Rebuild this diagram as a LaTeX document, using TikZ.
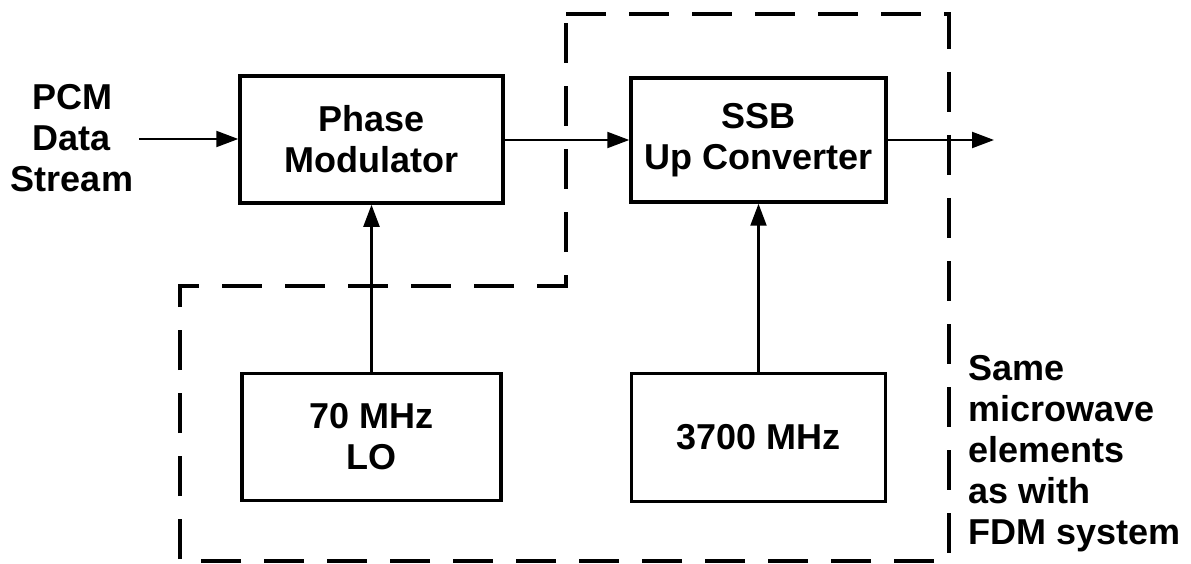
\documentclass[tikz,border=0pt]{standalone}
\usepackage{fontspec}
\setmainfont{Liberation Sans}
\usetikzlibrary{
  arrows.meta,                        % for arrow tips
  positioning
}
\tikzstyle{block} = [rectangle, draw, line width=3.5pt, text centered, align=center, inner sep=0pt]
\tikzstyle{sigline} = [line width=2.2pt, -{Triangle[length=22pt,width=16pt]}]
\tikzstyle{boundary} = [line width=3.5pt, dash pattern=on 40pt off 23pt]
\tikzstyle{caption} = [align=center, inner sep=0pt]

\begin{document}
\begin{tikzpicture}[x=1pt,y=-1pt,font=\bfseries\fontsize{36}{41}\selectfont]
\useasboundingbox (0,0) rectangle (1191,564);
  % signal path nodes
\node[block,minimum width=263pt,minimum height=127pt](phasemod) at (371.5,139.5) {Phase\\Modulator};
\node[block,minimum width=255pt,minimum height=124pt](upconv) at (758.5,140) {SSB\\Up Converter};
\node[block,minimum width=259pt,minimum height=127pt](lo70)[below=167pt of phasemod] {70 MHz\\LO};
\node[block,minimum width=254pt,minimum height=128pt](lo3700)[below=168pt of upconv] {3700 MHz};
\node[caption](pcmin) at (72,138) {PCM\\Data\\Stream};
\node[caption,align=left,anchor=north west](samenote) at (968,355) {Same\\microwave\\elements\\as with\\FDM system};
\coordinate (instart) at (139,139);
\coordinate (outend) at (994,140);

% connectors
\draw[sigline] (instart) -- (instart -| phasemod.west);
\draw[sigline] (phasemod.east |- upconv.west) -- (upconv.west);
\draw[sigline] (upconv.east) -- (upconv.east -| outend);
\draw[sigline] (lo70.north) -- (phasemod.south);
\draw[sigline] (lo3700.north) -- (upconv.south);

% microwave part boundary
\draw[boundary] (566,14) -- (949,14) -- (949,561) -- (180,561) -- (180,286) -- (566,286) -- cycle;
\end{tikzpicture}
\end{document}
